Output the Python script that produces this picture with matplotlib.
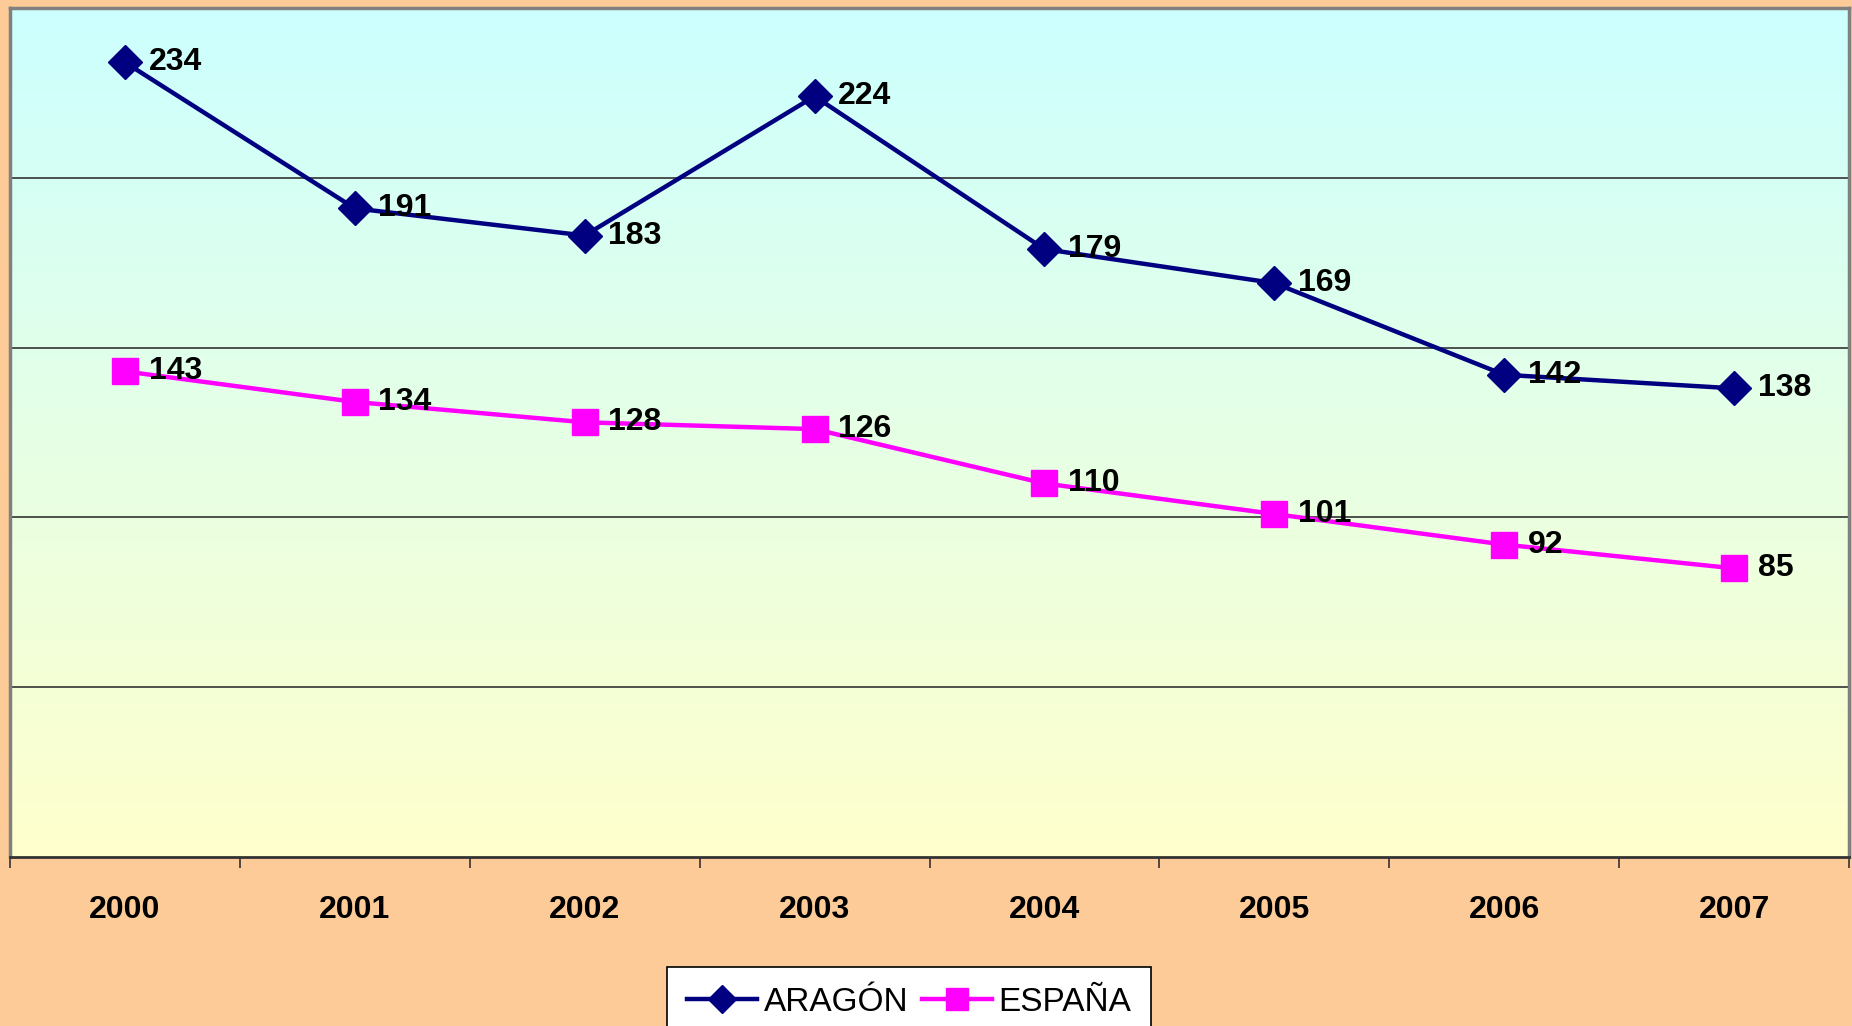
import numpy as np
import matplotlib
matplotlib.use("Agg")
import matplotlib.pyplot as plt
from matplotlib.colors import LinearSegmentedColormap

# datos
years = ["2000", "2001", "2002", "2003", "2004", "2005", "2006", "2007"]
aragon = [234, 191, 183, 224, 179, 169, 142, 138]
espana = [143, 134, 128, 126, 110, 101, 92, 85]

plt.rcParams['font.family'] = ['Liberation Sans', 'DejaVu Sans']

fig = plt.figure(figsize=(18.52, 10.26), dpi=100, facecolor='#FCCB98')
ax = fig.add_axes([10/1852, 1 - 857/1026, 1839/1852, 849/1026])

# fondo degradado cyan -> amarillo
grad = LinearSegmentedColormap.from_list('fondo', ['#FFFFCC', '#CCFFFF'])
ax.imshow(np.linspace(0, 1, 256).reshape(-1, 1), cmap=grad, aspect='auto',
          extent=[-0.5, 7.5, 0, 250], origin='lower', zorder=0)

x = np.arange(len(years))
ax.plot(x, aragon, color='#000080', lw=3.2, marker='D', ms=17, label='ARAGÓN', zorder=3)
ax.plot(x, espana, color='#FF00FF', lw=3.2, marker='s', ms=19, label='ESPAÑA', zorder=3)

for i in range(len(years)):
    ax.annotate(str(aragon[i]), (x[i], aragon[i]), xytext=(17, 0), textcoords='offset points',
                va='center', ha='left', fontsize=23, fontweight='bold', zorder=4)
    ax.annotate(str(espana[i]), (x[i], espana[i]), xytext=(17, 0), textcoords='offset points',
                va='center', ha='left', fontsize=23, fontweight='bold', zorder=4)

ax.set_xlim(-0.5, 7.5)
ax.set_ylim(0, 250)
for yv in [50, 100, 150, 200]:
    ax.axhline(yv, color='#333333', lw=1.2, zorder=1)

ax.set_yticks([])
ax.set_xticks(np.arange(-0.5, 8, 1))
ax.set_xticklabels([])
ax.set_xticks(x, minor=True)
ax.set_xticklabels(years, minor=True, fontsize=23, fontweight='bold')
ax.tick_params(axis='x', which='major', length=8, width=1.2, color='#333333', direction='out')
ax.tick_params(axis='x', which='minor', length=0, pad=27)

for s in ['left', 'right', 'top']:
    ax.spines[s].set_color('#808080')
    ax.spines[s].set_linewidth(2.5)
ax.spines['bottom'].set_color('#333333')
ax.spines['bottom'].set_linewidth(2)

leg = fig.legend(loc='upper center', bbox_to_anchor=(0.491, 1 - 967/1026), ncol=2,
                 fontsize=24, frameon=True, fancybox=False, edgecolor='black',
                 facecolor='white', framealpha=1, handlelength=2.1, handletextpad=0.2,
                 columnspacing=0.4, borderpad=0.6, borderaxespad=0, markerscale=0.85)
leg.get_frame().set_linewidth(1.2)

fig.savefig('out.png', dpi=100, facecolor=fig.get_facecolor())
